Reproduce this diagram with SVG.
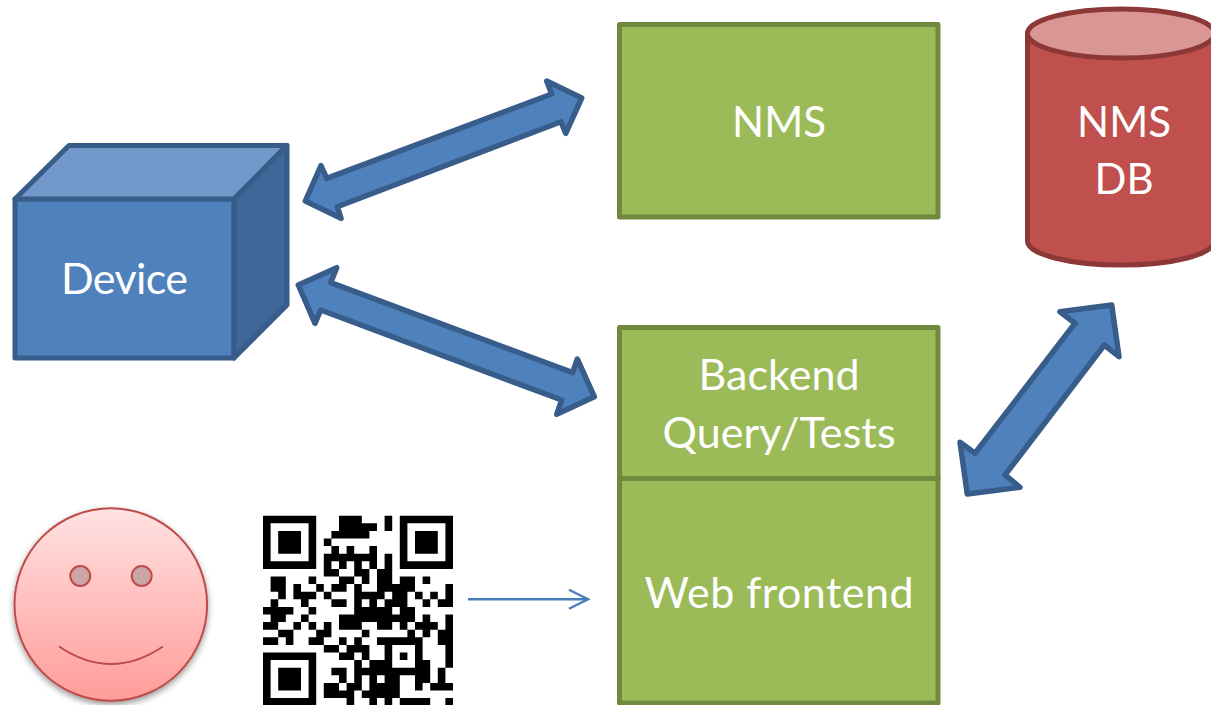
<svg xmlns="http://www.w3.org/2000/svg" width="1211" height="705" viewBox="0 0 1211 705">
<style>
text{font-family:"Lato","Open Sans","Liberation Sans",sans-serif;font-size:43px;fill:#fff;text-anchor:middle}
.caps{font-size:42px}
.g{fill:#9bbb59;stroke:#71893f;stroke-width:5;stroke-linejoin:round}
.b{stroke:#385d8a;stroke-width:5;stroke-linejoin:round}
.arrow{fill:#4f81bd;stroke:#385d8a;stroke-width:5.500;stroke-linejoin:round}
.r{stroke:#8c3836;stroke-width:5;stroke-linejoin:round}
.face{stroke:#be4b48;stroke-width:2}
</style>
<defs>
<linearGradient id="pink" x1="0" y1="0" x2="0" y2="1"><stop offset="0" stop-color="#ffe2e2"/><stop offset="1" stop-color="#ff9c99"/></linearGradient>
<filter id="sh" x="-10%" y="-10%" width="120%" height="120%"><feDropShadow dx="0" dy="3" stdDeviation="3" flood-color="#000" flood-opacity=".4"/></filter>
<marker id="open" markerUnits="userSpaceOnUse" markerWidth="24" markerHeight="24" refX="20" refY="12" orient="auto"><path d="M1 2.500L20 12L1 21.500" fill="none" stroke="#4a7ebb" stroke-width="2.400"/></marker>
</defs>
<rect width="1211" height="705" fill="#fff"/>
<g id="connectors">
<path class="arrow" d="M305.3 201L321 165.7L326.7 178.3L551.7 94L546.7 81L581.7 98L565.7 133.3L561 121.7L337.3 206.7L341 218.3Z"/>
<path class="arrow" d="M298.3 285L336.7 267.7L330.7 282.7L572.7 372.7L577.3 359L594.3 396.7L556.7 414.3L561.7 400L320.7 310L315 323.3Z"/>
<path class="arrow" d="M1111.7 305L1119 356.7L1104.3 345L1005 475L1020 487.3L967.3 494L960 442.3L975 453.3L1075 323.3L1060 311.7Z"/>
<line x1="468" y1="599.3" x2="588" y2="599.3" fill="none" stroke="#4a7ebb" stroke-width="2.400" marker-end="url(#open)"/>
</g>
<g id="device">
<path class="b" fill="#4f81bd" d="M15 199H234V358H15Z"/>
<path class="b" fill="#7299ca" d="M15 199L69 145.5H287L234 199Z"/>
<path class="b" fill="#3f6797" d="M234 199L287 145.5V305L234 358Z"/>
<text x="124.500" y="294" textLength="127">Device</text>
</g>
<g id="nms">
<rect class="g" x="619.500" y="24.500" width="318.500" height="192.500"/>
<text class="caps" x="779" y="137">NMS</text>
</g>
<g id="nms-db">
<path class="r" fill="#c0504d" d="M1027.500 33.500V241A93.500 24 0 0 0 1214.500 241V33.500Z"/>
<ellipse class="r" fill="#d99694" cx="1121" cy="33.500" rx="93.500" ry="24.500"/>
<text class="caps" x="1124" y="137">NMS</text>
<text class="caps" x="1124" y="194">DB</text>
</g>
<g id="backend">
<rect class="g" x="619.500" y="327.500" width="318.500" height="151"/>
<text x="779" y="390" textLength="161">Backend</text>
<text x="779" y="448" textLength="233">Query/Tests</text>
</g>
<g id="web-frontend">
<rect class="g" x="619.500" y="478.500" width="318.500" height="224.500"/>
<text x="779" y="607.500" textLength="269">Web frontend</text>
</g>
<g id="user">
<circle class="face" cx="110.800" cy="604.500" r="96.300" fill="url(#pink)" filter="url(#sh)"/>
<circle class="face" cx="80.300" cy="576" r="10" fill="#cba5a5"/>
<circle class="face" cx="141.700" cy="576" r="10" fill="#cba5a5"/>
<path class="face" fill="none" d="M59 646.500Q111 681.500 163 646.500"/>
</g>
<g id="qr-code" transform="translate(263 515.700) scale(7.6)">
<path fill="#000" fill-rule="evenodd" d="M0 0h7v7h-7zM1 1v5h5v-5zM2 2h3v3h-3zM18 0h7v7h-7zM19 1v5h5v-5zM20 2h3v3h-3zM0 18h7v7h-7zM1 19v5h5v-5zM2 20h3v3h-3z
M10 0h3v1h-3zM16 0h1v2h-1zM10 1h5v1h-5zM9 2h5v1h-5zM8 3h1v1h-1zM9 4h1v1h-1zM11 4h1v1h-1zM14 4h1v1h-1zM8 5h7v1h-7zM16 5h1v1h-1z
M8 6h1v1h-1zM10 6h1v1h-1zM12 6h1v1h-1zM14 6h1v1h-1zM16 6h1v1h-1z
M8 7h2v1h-2zM12 7h2v1h-2zM15 7h2v1h-2z
M1 8h2v1h-2zM6 8h1v1h-1zM10 8h2v1h-2zM13 8h1v1h-1zM15 8h2v1h-2zM18 8h2v1h-2zM21 8h1v1h-1z
M1 9h2v1h-2zM4 9h1v1h-1zM7 9h1v1h-1zM9 9h2v1h-2zM12 9h1v1h-1zM15 9h5v1h-5zM24 9h1v1h-1z
M2 10h1v1h-1zM4 10h3v1h-3zM8 10h1v1h-1zM12 10h4v1h-4zM17 10h2v1h-2zM20 10h1v1h-1zM22 10h1v1h-1zM24 10h1v1h-1z
M1 11h1v1h-1zM5 11h1v1h-1zM9 11h2v1h-2zM12 11h1v1h-1zM14 11h1v1h-1zM16 11h3v1h-3zM21 11h1v1h-1zM23 11h2v1h-2z
M0 12h4v1h-4zM6 12h1v1h-1zM12 12h5v1h-5zM18 12h2v1h-2z
M1 13h2v1h-2zM5 13h1v1h-1zM10 13h10v1h-10zM21 13h1v1h-1zM24 13h1v1h-1z
M0 14h2v1h-2zM4 14h1v1h-1zM6 14h1v1h-1zM8 14h1v1h-1zM10 14h3v1h-3zM15 14h2v1h-2zM18 14h1v1h-1zM20 14h3v1h-3zM24 14h1v1h-1z
M2 15h2v1h-2zM7 15h2v1h-2zM13 15h1v1h-1zM19 15h1v1h-1zM21 15h1v1h-1zM23 15h2v1h-2z
M0 16h2v1h-2zM3 16h1v1h-1zM6 16h2v1h-2zM10 16h1v1h-1zM12 16h1v1h-1zM15 16h6v1h-6zM23 16h2v1h-2z
M8 17h2v1h-2zM11 17h3v1h-3zM16 17h1v1h-1zM20 17h1v1h-1zM24 17h1v1h-1z
M10 18h2v1h-2zM13 18h1v1h-1zM16 18h1v1h-1zM18 18h1v1h-1zM20 18h1v1h-1zM24 18h1v1h-1z
M12 19h1v1h-1zM14 19h3v1h-3zM20 19h2v1h-2zM24 19h1v1h-1z
M9 20h2v1h-2zM12 20h10v1h-10zM23 20h1v1h-1z
M10 21h1v1h-1zM12 21h1v1h-1zM14 21h1v1h-1zM16 21h2v1h-2zM20 21h2v1h-2zM23 21h1v1h-1z
M8 22h2v1h-2zM11 22h2v1h-2zM14 22h4v1h-4zM20 22h1v1h-1zM22 22h3v1h-3z
M8 23h4v1h-4zM13 23h5v1h-5z
M11 24h1v1h-1zM14 24h1v1h-1zM16 24h1v1h-1zM18 24h4v1h-4zM24 24h1v1h-1z"/>
</g>
</svg>
